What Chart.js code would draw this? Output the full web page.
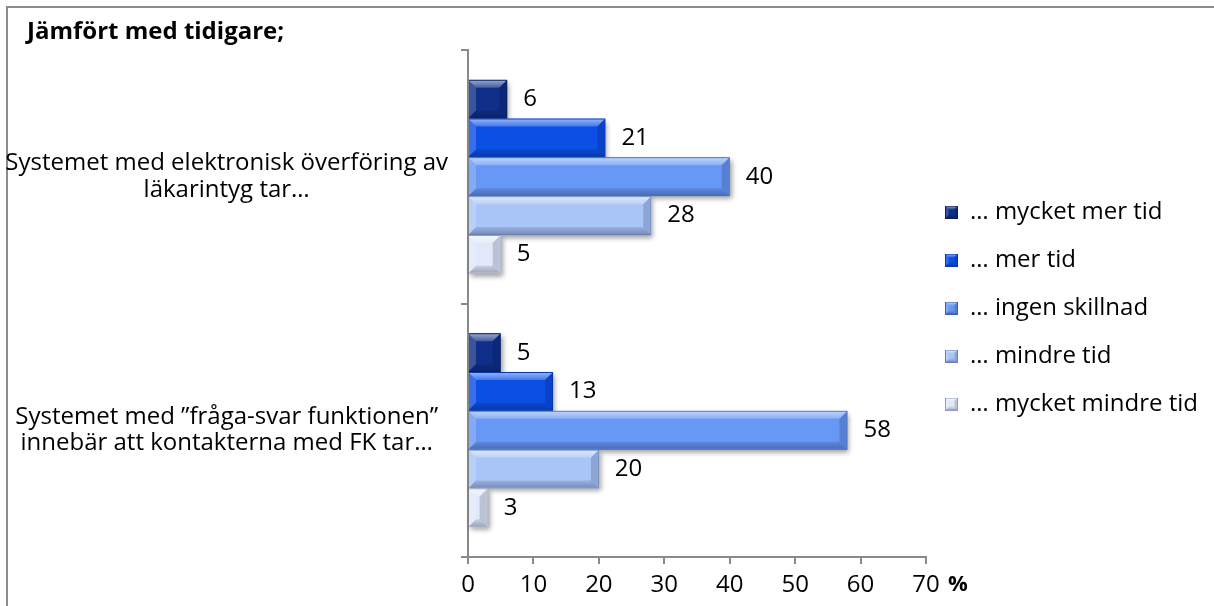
<!DOCTYPE html>
<html lang="sv">
<head>
<meta charset="utf-8">
<title>Jämfört med tidigare</title>
<script src="https://cdn.jsdelivr.net/npm/chart.js@4.4.1/dist/chart.umd.min.js"></script>
<style>
  html, body { margin: 0; padding: 0; background: #ffffff; }
  #wrap { position: relative; width: 1214px; height: 606px; overflow: hidden; }
  canvas { display: block; }
</style>
</head>
<body>
<div id="wrap"><canvas id="chart" width="1214" height="606"></canvas></div>
<script>
// ---- data -------------------------------------------------------------
const categories = [
  ['Systemet med elektronisk överföring av', 'läkarintyg tar…'],
  ['Systemet med ”fråga-svar funktionen”', 'innebär att kontakterna med FK tar…']
];
const seriesNames = ['… mycket mer tid', '… mer tid', '… ingen skillnad', '… mindre tid', '… mycket mindre tid'];
const muchMoreTime = [6, 5];
const moreTime = [21, 13];
const noDifference = [40, 58];
const lessTime = [28, 20];
const muchLessTime = [5, 3];
const xTickValues = [0, 10, 20, 30, 40, 50, 60, 70];
const titleText = 'Jämfört med tidigare;';
const unitText = '%';

// ---- styling ----------------------------------------------------------
const FONT = '"Open Sans", "Liberation Sans", sans-serif';
const TEXT_SIZE = 24;
const X_LINE_HEIGHT = 1.0;
const faceColors = ['#0f2f88', '#0b4fe4', '#6898f5', '#a9c5f7', '#e0e8f9'];
const edgeColors = ['#081f5c', '#0737ac', '#3d61a6', '#6781b4', '#8e9dbf'];
const axisColor = '#8a8a8a';

function facet(ctx, pts, fill) {
  ctx.beginPath();
  ctx.moveTo(pts[0][0], pts[0][1]);
  for (let i = 1; i < pts.length; i++) ctx.lineTo(pts[i][0], pts[i][1]);
  ctx.closePath();
  ctx.fillStyle = fill;
  ctx.fill();
}

// bevelled "button" look on a rectangle
function bevel(ctx, x0, y0, x1, y1, depth) {
  const d = Math.min(depth, (x1 - x0) / 2, (y1 - y0) / 2);
  if (d <= 0) return;
  ctx.save();
  const topGrad = ctx.createLinearGradient(0, y0, 0, y0 + d);
  topGrad.addColorStop(0, 'rgba(255,255,255,0.55)');
  topGrad.addColorStop(1, 'rgba(255,255,255,0.22)');
  facet(ctx, [[x0, y0], [x1, y0], [x1 - d, y0 + d], [x0 + d, y0 + d]], topGrad);
  const botGrad = ctx.createLinearGradient(0, y1 - d, 0, y1);
  botGrad.addColorStop(0, 'rgba(0,0,30,0.10)');
  botGrad.addColorStop(1, 'rgba(0,0,30,0.28)');
  facet(ctx, [[x0, y1], [x1, y1], [x1 - d, y1 - d], [x0 + d, y1 - d]], botGrad);
  facet(ctx, [[x0, y0], [x0 + d, y0 + d], [x0 + d, y1 - d], [x0, y1]], 'rgba(255,255,255,0.18)');
  facet(ctx, [[x1, y0], [x1 - d, y0 + d], [x1 - d, y1 - d], [x1, y1]], 'rgba(0,0,30,0.16)');
  ctx.restore();
}

// small bevelled legend swatches
const swatches = faceColors.map((c, i) => {
  const s = document.createElement('canvas');
  s.width = 13; s.height = 13;
  const g = s.getContext('2d');
  g.fillStyle = c;
  g.fillRect(0, 0, 13, 13);
  bevel(g, 0, 0, 13, 13, 3.5);
  g.strokeStyle = edgeColors[i];
  g.lineWidth = 1;
  g.strokeRect(0.5, 0.5, 12, 12);
  return s;
});

function barRect(el) {
  const p = el.getProps(['x', 'y', 'base', 'height'], true);
  return {
    x0: Math.min(p.base, p.x), x1: Math.max(p.base, p.x),
    y0: p.y - p.height / 2, y1: p.y + p.height / 2, cy: p.y
  };
}

// soft shadows under the bars, bevel on top, value labels at the bar ends
const barDecor = {
  id: 'barDecor',
  beforeDatasetsDraw(chart) {
    const ctx = chart.ctx;
    ctx.save();
    ctx.shadowColor = 'rgba(0,0,0,0.38)';
    ctx.shadowBlur = 5;
    ctx.shadowOffsetX = 2;
    ctx.shadowOffsetY = 3;
    chart.data.datasets.forEach((ds, i) => {
      chart.getDatasetMeta(i).data.forEach(el => {
        const r = barRect(el);
        ctx.fillStyle = faceColors[i];
        ctx.fillRect(r.x0, r.y0, r.x1 - r.x0, r.y1 - r.y0);
      });
    });
    ctx.restore();
  },
  afterDatasetsDraw(chart) {
    const ctx = chart.ctx;
    chart.data.datasets.forEach((ds, i) => {
      chart.getDatasetMeta(i).data.forEach((el, j) => {
        const r = barRect(el);
        bevel(ctx, r.x0, r.y0 + 1, r.x1 - 1, r.y1 - 1, 7);
        ctx.save();
        ctx.font = TEXT_SIZE + 'px ' + FONT;
        ctx.fillStyle = '#000';
        ctx.textAlign = 'left';
        ctx.textBaseline = 'middle';
        ctx.fillText(String(ds.data[j]), r.x1 + 16, r.cy);
        ctx.restore();
      });
    });
  }
};

// chart frame, the "%" unit next to the value axis, title/legend nudges
const frameAndUnit = {
  id: 'frameAndUnit',
  beforeDraw(chart) {
    const ctx = chart.ctx;
    ctx.save();
    ctx.fillStyle = '#fff';
    ctx.fillRect(0, 0, chart.width, chart.height);
    ctx.strokeStyle = '#8c8c8c';
    ctx.lineWidth = 2;
    ctx.strokeRect(7, 7, chart.width + 20, chart.height + 20);
    ctx.restore();
  },
  afterLayout(chart) {
    const lg = chart.legend;
    if (lg) { lg.left -= 5; lg.right -= 5; }
    const tb = chart.titleBlock;
    if (tb) { tb.left += 21; }
  },
  afterDraw(chart) {
    const xs = chart.scales.x;
    const ctx = chart.ctx;
    ctx.save();
    ctx.font = 'bold 22px ' + FONT;
    ctx.fillStyle = '#000';
    ctx.textAlign = 'left';
    ctx.textBaseline = 'middle';
    const o = xs.options;
    const y = xs.top + o.grid.tickLength + o.ticks.padding + TEXT_SIZE * X_LINE_HEIGHT / 2;
    ctx.fillText(unitText, xs.right + 22, y);
    ctx.restore();
  }
};

// right padding so that the plot ends where the legend column begins
const measureCtx = document.createElement('canvas').getContext('2d');
measureCtx.font = TEXT_SIZE + 'px ' + FONT;
const legendTextWidth = Math.max(...seriesNames.map(s => measureCtx.measureText(s).width));
const legendWidth = 24 + 13 + TEXT_SIZE / 2 + legendTextWidth;
const rightPad = Math.max(0, 1214 - 928 - legendWidth - 8);

const seriesValues = [muchMoreTime, moreTime, noDifference, lessTime, muchLessTime];

new Chart(document.getElementById('chart'), {
  type: 'bar',
  data: {
    labels: categories,
    datasets: seriesNames.map((name, i) => ({
      label: name,
      data: seriesValues[i],
      backgroundColor: faceColors[i],
      borderColor: edgeColors[i],
      borderWidth: 1,
      categoryPercentage: 0.765,
      barPercentage: 1.0
    }))
  },
  options: {
    indexAxis: 'y',
    responsive: false,
    animation: false,
    devicePixelRatio: 1,
    layout: { padding: { left: 6, top: 10, bottom: 0, right: rightPad } },
    scales: {
      x: {
        min: 0, max: 70,
        afterBuildTicks(scale) { scale.ticks = xTickValues.map(v => ({ value: v })); },
        grid: { drawOnChartArea: false, drawTicks: true, tickLength: 7, color: axisColor, lineWidth: 2 },
        border: { display: true, color: axisColor, width: 2 },
        ticks: { color: '#000', font: { family: FONT, size: TEXT_SIZE, lineHeight: X_LINE_HEIGHT }, padding: 9, maxRotation: 0 }
      },
      y: {
        afterFit(scale) { scale.width = 462; },
        grid: { drawOnChartArea: false, drawTicks: true, tickLength: 7, color: axisColor, lineWidth: 2, offset: true },
        border: { display: true, color: axisColor, width: 2 },
        ticks: { color: '#000', crossAlign: 'center', padding: 13, font: { family: FONT, size: TEXT_SIZE, lineHeight: 1.1 } }
      }
    },
    plugins: {
      title: {
        display: true, text: titleText, align: 'start', color: '#000',
        font: { family: FONT, size: 24, weight: 'bold', lineHeight: 1.2 },
        padding: { top: 8, bottom: 3.2 }
      },
      legend: {
        position: 'right',
        align: 'center',
        labels: {
          color: '#000',
          font: { family: FONT, size: TEXT_SIZE },
          usePointStyle: true,
          boxWidth: 13, boxHeight: 13,
          padding: 24,
          generateLabels(chart) {
            const items = Chart.defaults.plugins.legend.labels.generateLabels(chart);
            items.forEach(it => { it.pointStyle = swatches[it.datasetIndex]; });
            return items;
          }
        }
      },
      tooltip: { enabled: false }
    }
  },
  plugins: [barDecor, frameAndUnit]
});
</script>
</body>
</html>
